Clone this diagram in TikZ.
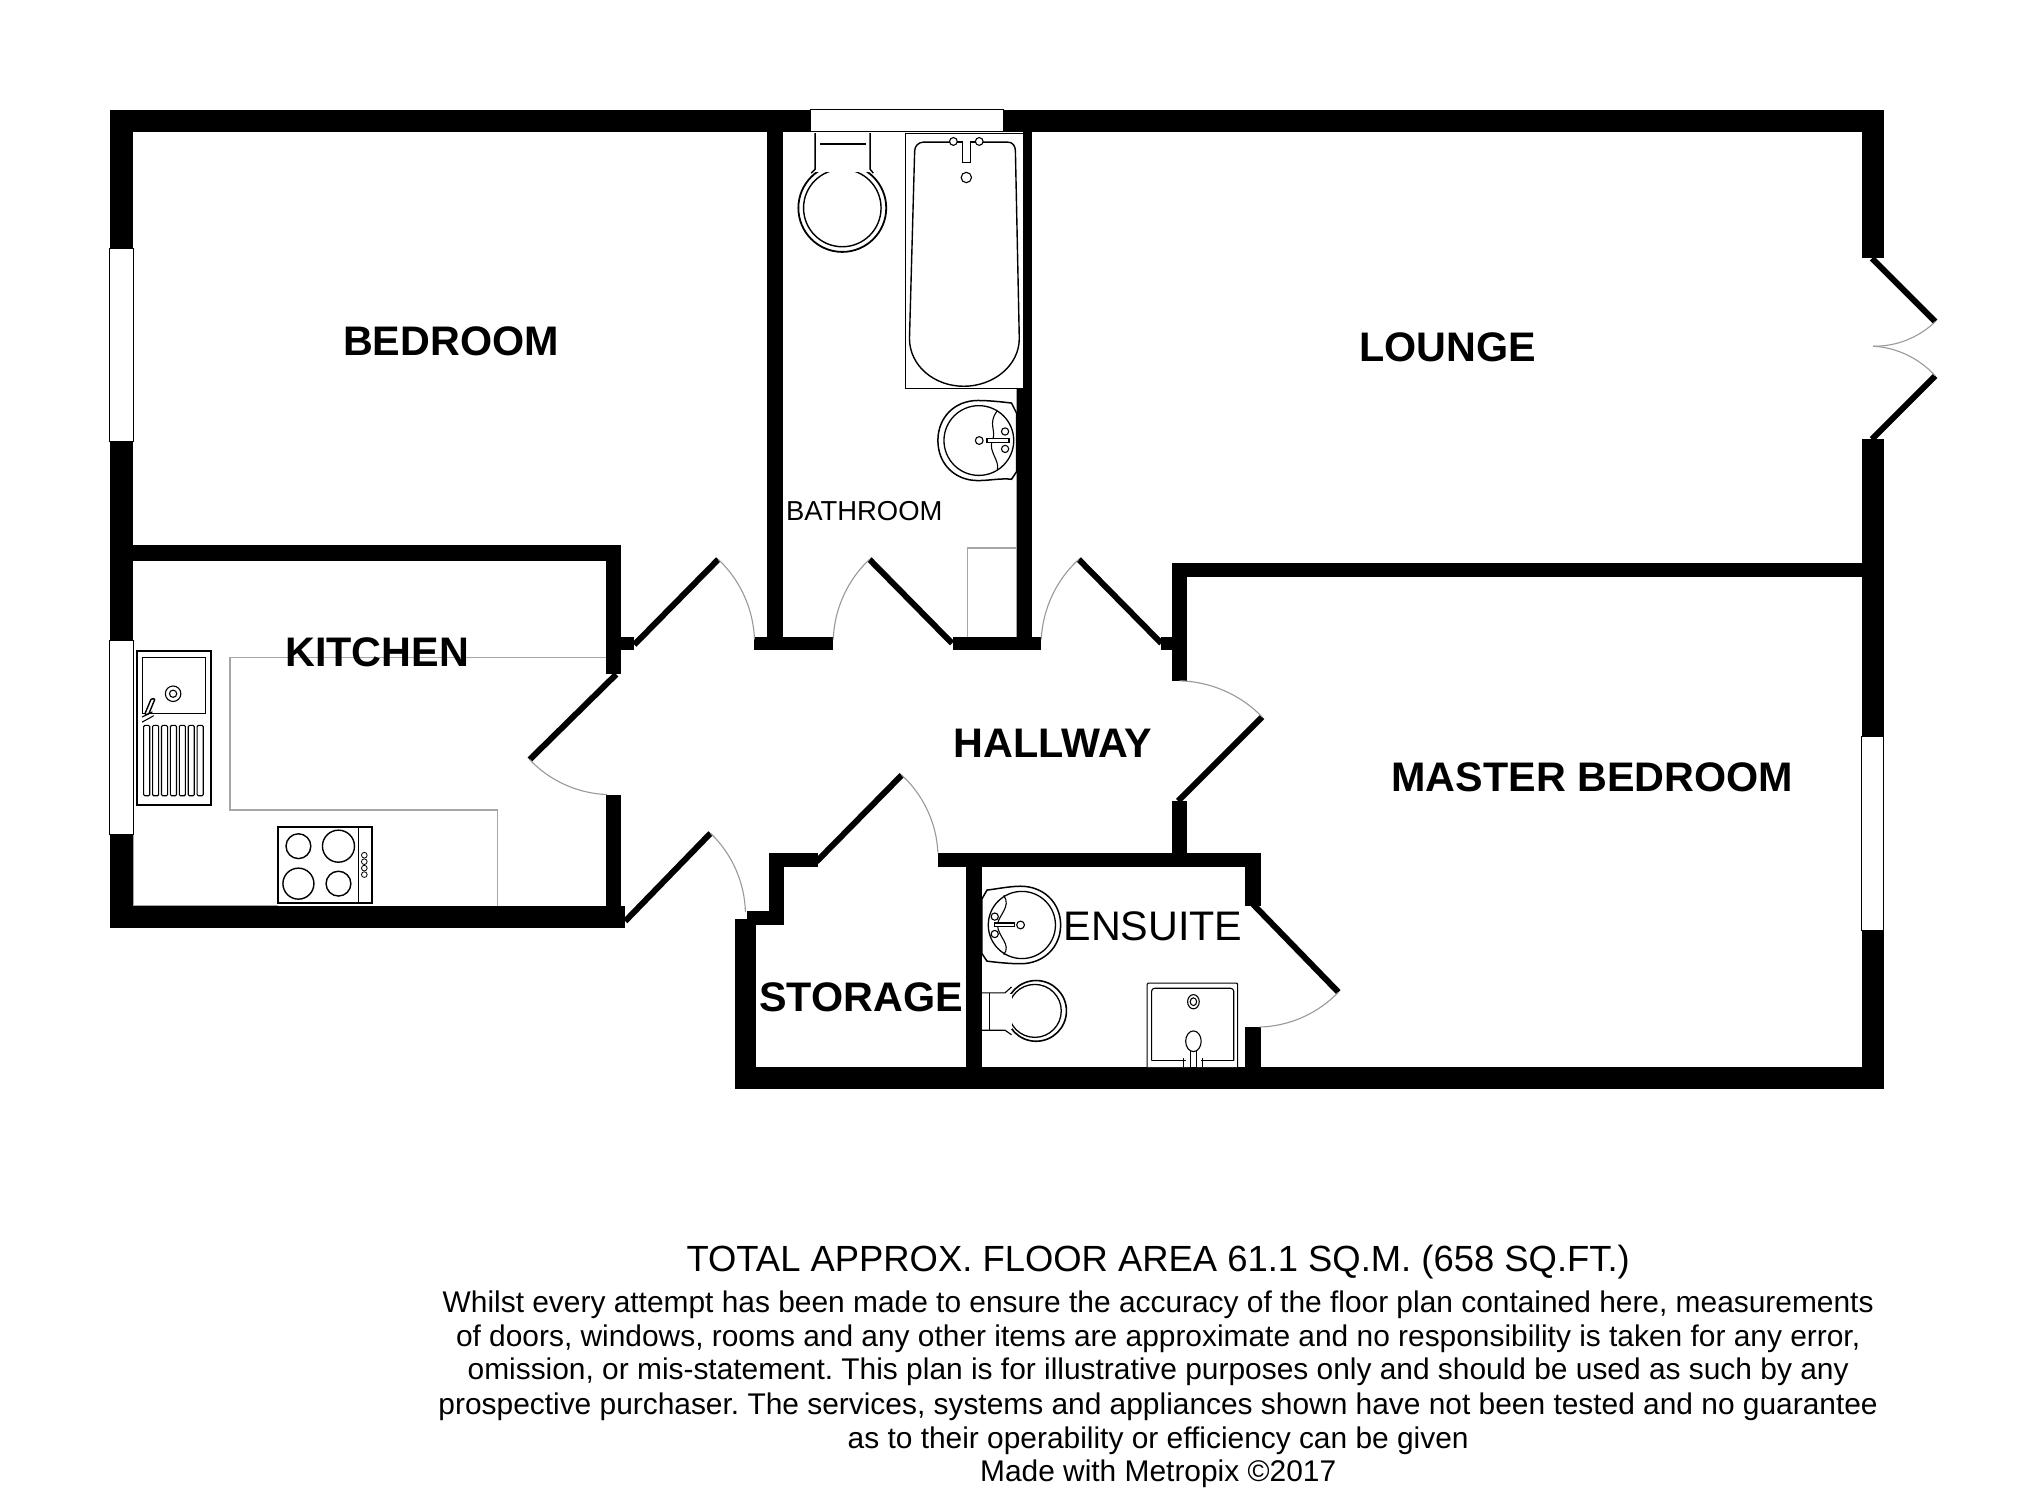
\documentclass[tikz,border=0pt]{standalone}
\usepackage{fontspec}
\setmainfont{Liberation Sans}
\frenchspacing
\tikzset{
  wall/.style={fill=black,draw=none},
  win/.style={fill=white,draw=black,line width=0.7pt},
  leaf/.style={draw=black,line width=6pt},
  swing/.style={draw=black!40,line width=1.1pt,looseness=0.88},
  unit/.style={draw=gray!70,line width=1.6pt},
  fix/.style={draw=black,line width=1.1pt,fill=white},
  fixb/.style={draw=black,line width=2pt,fill=white},
  room/.style={font=\fontsize{41.3}{41.3}\selectfont\bfseries,anchor=base,inner sep=0pt},
  roomr/.style={font=\fontsize{41.3}{41.3}\selectfont,anchor=base,inner sep=0pt},
  small/.style={font=\fontsize{27.4}{27.4}\selectfont,anchor=base,inner sep=0pt},
  title/.style={font=\fontsize{36.4}{36.4}\selectfont,anchor=base,inner sep=0pt},
  note/.style={font=\fontsize{29.9}{29.9}\selectfont,anchor=base,inner sep=0pt},
}
\begin{document}
\begin{tikzpicture}[x=1.2919pt,y=-1.2919pt]
\useasboundingbox (0,0) rectangle (1567.5,1160.3);
\fill[white] (0,0) rectangle (1567.5,1160.3);
% kitchen units and other light lines
\draw[unit] (469,509) -- (178,509) -- (178,627) -- (385,627) -- (385,701);
\draw[unit] (749,493) -- (749,424) -- (787,424);
\draw[unit] (787,300) -- (787,493);
\draw[unit,line width=1pt] (103,434) -- (469,434);
\draw[unit,line width=1pt] (103,646) -- (103,701) -- (215,701);
% walls
\fill[wall] (85,85) rectangle (627,102);
\fill[wall] (777,85) rectangle (1458,102);
\fill[wall] (85,85) rectangle (103,718);
\fill[wall] (85,701) rectangle (484,718);
\fill[wall] (103,422) rectangle (481,434);
\fill[wall] (469,422) rectangle (481,522);
\fill[wall] (469,493) rectangle (491,503);
\fill[wall] (469,615) rectangle (481,718);
\fill[wall] (594,102) rectangle (606,503);
\fill[wall] (584,493) rectangle (645,503);
\fill[wall] (738,493) rectangle (806,503);
\fill[wall] (792,102) rectangle (799,503);
\fill[wall] (787,300) rectangle (799,503);
\fill[wall] (907,436) rectangle (1458,447);
\fill[wall] (907,436) rectangle (919,527);
\fill[wall] (899,493) rectangle (907,503);
\fill[wall] (907,620) rectangle (919,670);
\fill[wall] (1441,85) rectangle (1458,200);
\fill[wall] (1441,340) rectangle (1458,843);
\fill[wall] (569,826) rectangle (1458,843);
\fill[wall] (569,711) rectangle (585,843);
\fill[wall] (578,705) rectangle (607,716);
\fill[wall] (595,660) rectangle (607,716);
\fill[wall] (595,660) rectangle (633,671);
\fill[wall] (726,660) rectangle (976,671);
\fill[wall] (748,660) rectangle (760,826);
\fill[wall] (964,660) rectangle (976,701);
\fill[wall] (964,795) rectangle (976,826);
% windows
\draw[win] (627,85) rectangle (777,102);
\draw[win] (85,192) rectangle (103,342);
\draw[win] (85,496) rectangle (103,646);
\draw[win] (1441,570) rectangle (1458,720);
% doors
\draw[leaf] (491,499) -- (556,433);
\draw[swing] (556,433) to[bend left=22.5] (584,495);
\draw[leaf] (737,498) -- (673,433);
\draw[swing] (673,433) to[bend right=22.5] (645,495);
\draw[leaf] (899,498) -- (835,433);
\draw[swing] (835,433) to[bend right=22.5] (806,495);
\draw[leaf] (912,620) -- (977,555);
\draw[swing] (977,555) to[bend right=22.5] (913,527);
\draw[leaf] (477,522) -- (410,588);
\draw[swing] (410,588) to[bend right=22.5] (470,615);
\draw[leaf] (484,713) -- (550,645);
\draw[swing] (550,645) to[bend left=22.5] (577,706);
\draw[leaf] (632,667) -- (698,600);
\draw[swing] (698,600) to[bend left=22.5] (726,660);
\draw[leaf] (970,700) -- (1036,768);
\draw[swing] (1036,768) to[bend left=22.5] (975,795);
\draw[leaf] (1449,200) -- (1498,249);
\draw[swing] (1498,249) to[bend left=22.5] (1450,268);
\draw[leaf] (1449,340) -- (1498,291);
\draw[swing] (1498,291) to[bend right=22.5] (1450,268);
% bathroom WC
\draw[fix,line width=1.8pt] (652,161) circle[radius=34];
\draw[fix,line width=1.4pt] (652,161) circle[radius=30];
\fill[white] (631.5,103) rectangle (673,133);
\draw[fix,line width=1.4pt] (631,103) -- (631,131) -- (628,134);
\draw[fix,line width=1.4pt] (673.5,103) -- (673.5,131) -- (676,134);
\draw[fix] (635,111.5) -- (670,111.5);
% bath
\draw[fix] (701,103) -- (701,301) -- (792,301) -- (792,103) -- cycle;
\draw[fixb,line width=1.4pt] (715,110) -- (780,110) .. controls (784,110) and (786,113) .. (786,117)
  -- (789,262) .. controls (789,283) and (769,299) .. (746,299)
  .. controls (723,299) and (704,283) .. (704,262)
  -- (708,117) .. controls (708,113) and (711,110) .. (715,110) -- cycle;
\draw[fix] (736,109.5) -- (760,109.5);
\draw[fix] (738,109.5) circle[radius=3];
\draw[fix] (758,109.5) circle[radius=3];
\draw[fix] (745,109) -- (745,126) -- (751,126) -- (751,109);
\draw[fix] (748,137.4) circle[radius=4];
% bathroom basin
\draw[fixb,line width=1.5pt] (783,312) .. controls (775,311) and (765,310) .. (757,310)
  .. controls (739,310) and (726,323) .. (726,341)
  .. controls (726,359) and (739,372) .. (757,372)
  .. controls (766,372) and (775,370) .. (783,371) -- (787,365) -- (787,320) -- cycle;
\draw[fix,line width=1.3pt] (757.7,341) circle[radius=27];
\draw[fix,fill=none] (772,318) .. controls (764,328) and (772,334) .. (768,341) .. controls (765,350) and (774,356) .. (772,364);
\draw[fix] (758,341) circle[radius=3];
\draw[fix] (764,339.5) rectangle (781,342.5);
\draw[fix] (778,334) circle[radius=2.8];
\draw[fix] (778,347.5) circle[radius=2.8];
% sink
\draw[fixb] (106,504) rectangle (163,623);
\draw[fix] (110,509) rectangle (159,552);
\draw[fix] (134,537) circle[radius=6];
\draw[fix] (134,537) circle[radius=2.8];
\draw[fix,line width=1.4pt,rounded corners=1pt] (117,541) -- (120,541) -- (115,553) -- (112,553) -- cycle;
\draw[fix,fill=none] (110,555) -- (118,551) (110,559) -- (119,554);
\foreach \k in {0,...,6}{
  \draw[fix,rounded corners=1.2pt] ({111.2+6.9*\k},561.5) rectangle ({115.9+6.9*\k},616);
}
% hob
\draw[fixb] (215,640) rectangle (288,699);
\draw[fix] (277.4,640) -- (277.4,699);
\draw[fix,line width=1.4pt] (231,655) circle[radius=9.6];
\draw[fix,line width=1.4pt] (262,655) circle[radius=12.4];
\draw[fix,line width=1.4pt] (231,684) circle[radius=12];
\draw[fix,line width=1.4pt] (262,684) circle[radius=9.6];
\foreach \yy in {662,667,672,677}{\draw[fix,line width=.8pt] (282,\yy) circle[radius=2.2];}
% ensuite basin
\draw[fixb,line width=1.5pt] (764,689) .. controls (772,688) and (782,686) .. (790,686)
  .. controls (808,686) and (821,699) .. (821,716)
  .. controls (821,733) and (808,746) .. (790,746)
  .. controls (782,746) and (772,745) .. (764,744) -- (760,738) -- (760,696) -- cycle;
\draw[fix,line width=1.3pt] (791,716) circle[radius=26];
\draw[fix,fill=none] (777,693) .. controls (783,702) and (773,708) .. (772,716) .. controls (773,726) and (783,731) .. (777,739);
\draw[fix] (790,716) circle[radius=3];
\draw[fix] (770,714.5) rectangle (785,717.5);
\draw[fix] (770,709.5) circle[radius=2.8];
\draw[fix] (770,723) circle[radius=2.8];
% ensuite WC
\draw[fix,line width=1.6pt] (802,782.5) circle[radius=23.5];
\draw[fix,line width=1.3pt] (801,782.5) circle[radius=20.5];
\fill[white] (761,769.5) rectangle (783,796.5);
\draw[fix,fill=none] (760,768.5) -- (778,768.5) -- (783,764);
\draw[fix,fill=none] (760,797.5) -- (778,797.5) -- (783,801);
\draw[fix,fill=none] (766,769) -- (766,797);
% shower
\draw[fix,rounded corners=1pt] (888,826) -- (888,761) -- (958,761) -- (958,826);
\draw[fix,rounded corners=3pt] (891.4,821) -- (891.4,765) -- (955,765) -- (955,821);
\draw[fix,fill=none] (891.4,821) -- (918,821) (930,821) -- (955,821);
\draw[fix] (923.8,775.4) circle[x radius=4.5,y radius=5.5];
\draw[fix] (923.8,775.4) circle[x radius=2.5,y radius=3];
\draw[fix] (921.2,813) rectangle (926.5,826);
\draw[fix] (923.8,806) circle[x radius=6,y radius=8];
\draw[fix,fill=none] (916,819) -- (916,826) (931,819) -- (931,826);
% labels
\node[room] (lbedroom) at (349,275) {BEDROOM};
\node[room] (llounge) at (1120.5,279.5) {LOUNGE};
\node[room] (lkitchen) at (292,516) {KITCHEN};
\node[room] (lhall) at (815,586) {HALLWAY};
\node[room] (lmaster) at (1232.5,613) {MASTER BEDROOM};
\node[room] (lstorage) at (666.5,783) {STORAGE};
\node[roomr] (lensuite) at (892.5,728) {ENSUITE};
\node[small] (lbath) at (669,403) {BATHROOM};
\node[title] (ttotal) at (896.5,984) {TOTAL APPROX. FLOOR AREA 61.1 SQ.M. (658 SQ.FT.)};
\node[note] (n1) at (896.5,1016) {Whilst every attempt has been made to ensure the accuracy of the floor plan contained here, measurements};
\node[note] (n2) at (896.5,1042) {of doors, windows, rooms and any other items are approximate and no responsibility is taken for any error,};
\node[note] (n3) at (896.5,1068) {omission, or mis-statement. This plan is for illustrative purposes only and should be used as such by any};
\node[note] (n4) at (896.5,1095) {prospective purchaser. The services, systems and appliances shown have not been tested and no guarantee};
\node[note] (n5) at (896.5,1121) {as to their operability or efficiency can be given};
\node[note] (n6) at (896.5,1147) {Made with Metropix \textcopyright2017};
\end{tikzpicture}
\end{document}
